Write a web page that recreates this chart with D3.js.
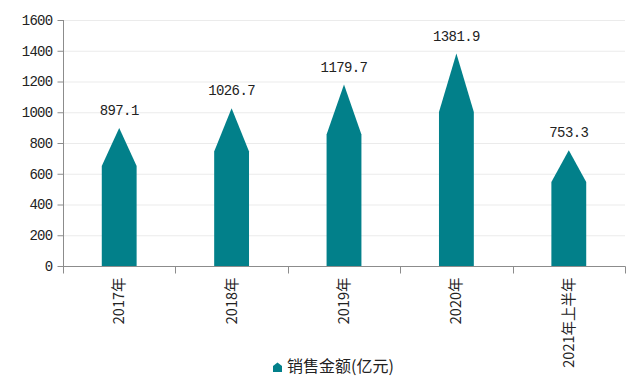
<!DOCTYPE html>
<html><head><meta charset="utf-8">
<script src="https://cdn.jsdelivr.net/npm/d3@7/dist/d3.min.js"></script>
<style>
html,body{margin:0;padding:0;background:#fff;}
svg{display:block;}
</style></head>
<body>
<svg id="chart" width="642" height="387"></svg>
<script>
const categories = ["2017年", "2018年", "2019年", "2020年", "2021年上半年"];
const values = [897.1, 1026.7, 1179.7, 1381.9, 753.3];
const valueLabels = ["897.1", "1026.7", "1179.7", "1381.9", "753.3"];
const yTicks = [0, 200, 400, 600, 800, 1000, 1200, 1400, 1600];
const seriesName = "销售金额(亿元)";

const color = "#02808a";
const svg = d3.select("#chart");
const mLeft = 63, mRight = 625, mTop = 20, mBottom = 266;

const x = d3.scaleBand().domain(categories).range([mLeft, mRight]).padding(0);
const y = d3.scaleLinear().domain([0, 1600]).range([mBottom, mTop]);

// gridlines
svg.append("g").selectAll("line").data(yTicks.filter(d => d > 0)).join("line")
  .attr("x1", mLeft).attr("x2", mRight)
  .attr("y1", d => y(d) + 0.5).attr("y2", d => y(d) + 0.5)
  .attr("stroke", "#ebebeb").attr("stroke-width", 1);

// y axis
const yAxis = d3.axisLeft(y).tickValues(yTicks).tickSize(6).tickPadding(5).tickFormat(d3.format("d"));
const gy = svg.append("g").attr("transform", `translate(${mLeft + 0.5},0)`).call(yAxis);
gy.select(".domain").attr("stroke", "#8c8c8c").attr("d", `M0,${mTop}V${mBottom + 0.5}`);
gy.selectAll(".tick line").attr("stroke", "#8c8c8c");
gy.selectAll(".tick text").attr("font-family", "'Liberation Mono', monospace")
  .attr("font-size", "14px").attr("letter-spacing", "-0.7px").attr("fill", "#222");

// x axis
const gx = svg.append("g").attr("transform", `translate(0,${mBottom + 0.5})`);
gx.append("line").attr("x1", mLeft).attr("x2", mRight + 0.5).attr("y1", 0).attr("y2", 0).attr("stroke", "#8c8c8c");
const bounds = categories.map(c => x(c)).concat([x(categories[categories.length - 1]) + x.bandwidth()]);
gx.selectAll("line.tk").data(bounds).join("line").attr("class", "tk")
  .attr("x1", d => Math.round(d) + 0.5).attr("x2", d => Math.round(d) + 0.5)
  .attr("y1", 0).attr("y2", 7).attr("stroke", "#8c8c8c");
gx.selectAll("text").data(categories).join("text")
  .attr("transform", d => `translate(${x(d) + x.bandwidth() / 2 + 5},11) rotate(-90)`)
  .attr("text-anchor", "end")
  .attr("font-family", "'Noto Sans CJK SC', sans-serif")
  .attr("font-size", "14.5px").attr("fill", "#222")
  .text(d => d);

// bars (pointed shape)
const barW = x.bandwidth() * 0.31;
const shoulder = 0.725;
svg.append("g").selectAll("path").data(values).join("path")
  .attr("fill", color)
  .attr("d", (v, i) => {
    const cx = x(categories[i]) + x.bandwidth() / 2;
    const x0 = cx - barW / 2, x1 = cx + barW / 2;
    return `M${x0},${y(0)}L${x0},${y(v * shoulder)}L${cx},${y(v)}L${x1},${y(v * shoulder)}L${x1},${y(0)}Z`;
  });

// value labels
svg.append("g").selectAll("text").data(values).join("text")
  .attr("x", (v, i) => x(categories[i]) + x.bandwidth() / 2)
  .attr("y", v => y(v) - 13)
  .attr("text-anchor", "middle")
  .attr("font-family", "'Liberation Mono', monospace")
  .attr("font-size", "14px").attr("letter-spacing", "-0.6px").attr("fill", "#222")
  .text((v, i) => valueLabels[i]);

// legend
const lg = svg.append("g");
lg.append("path").attr("fill", color)
  .attr("d", "M273,372L273,366L277.5,362.5L282,366L282,372Z");
lg.append("text").attr("x", 287).attr("y", 371.5)
  .attr("font-family", "'Noto Sans CJK SC', sans-serif")
  .attr("font-size", "16px").attr("fill", "#222")
  .text(seriesName);
</script>
</body></html>
